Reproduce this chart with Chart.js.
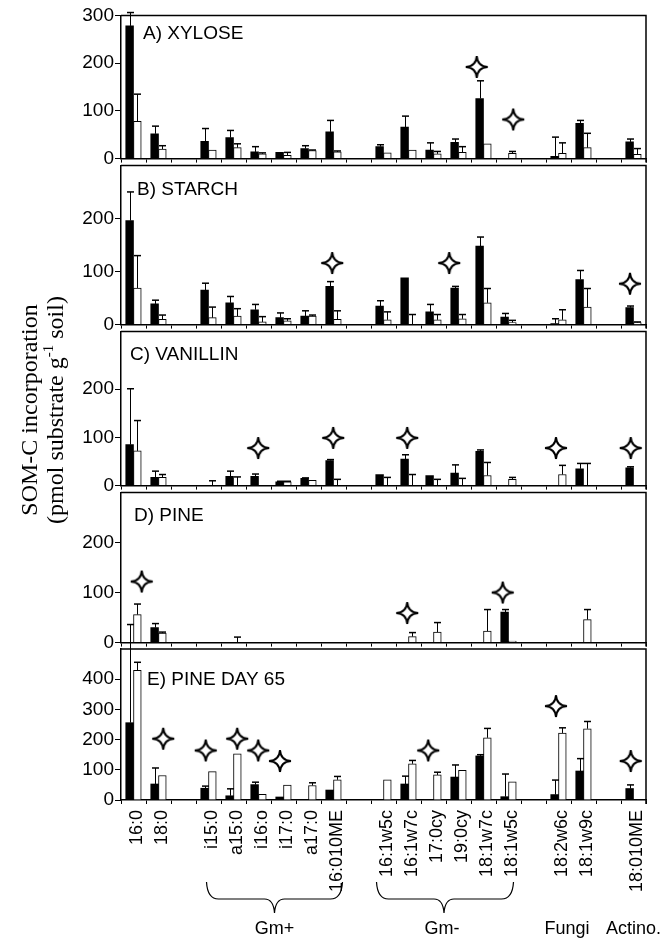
<!DOCTYPE html>
<html>
<head>
<meta charset="utf-8">
<script src="https://cdn.jsdelivr.net/npm/chart.js@4.4.0/dist/chart.umd.min.js"></script>
<style>
body { margin: 0; background: #fff; }
#wrap { position: relative; width: 662px; height: 938px; overflow: hidden; background: #fff; }
#wrap canvas { position: absolute; left: 0; }
</style>
</head>
<body>
<div id="wrap">
  <canvas id="cT" width="80" height="938" style="top:0px"></canvas>
  <canvas id="cA" width="662" height="168" style="top:3px"></canvas>
  <canvas id="cB" width="662" height="184" style="top:153px"></canvas>
  <canvas id="cC" width="662" height="179" style="top:319px"></canvas>
  <canvas id="cD" width="662" height="175" style="top:480px"></canvas>
  <canvas id="cE" width="662" height="319" style="top:619px"></canvas>
</div>
<script>
// fatty acid categories (blank slots are gaps between groups)
const cats = ['16:0', '18:0', '', 'i15:0', 'a15:0', 'i16:o', 'i17:0', 'a17:0', '16:010ME', '',
  '16:1w5c', '16:1w7c', '17:0cy', '19:0cy', '18:1w7c', '18:1w5c', '', '18:2w6c', '18:1w9c', '', '18:010ME'];

// A) XYLOSE
const xyloseBlack    = [278, 52, null, 36, 44, 14, 13, 21, 56, null, 25, 66, 18, 34, 126, 0, null, 5, 74, null, 35];
const xyloseBlackErr = [28, 16, null, 27, 15, 11, 0, 6, 24, null, 4, 23, 15, 7, 37, 0, null, 40, 6, null, 6];
const xyloseWhite    = [78, 20, null, 18, 23, 10, 7, 17, 14, null, 12, 18, 10, 13, 31, 11, null, 11, 23, null, 9];
const xyloseWhiteErr = [57, 7, null, 0, 8, 2, 6, 1, 2, null, 0, 0, 5, 12, 0, 4, null, 22, 30, null, 12];
const xyloseStarX = [13.73, 15.19];
const xyloseStarY = [192, 82];

// B) STARCH
const starchBlack    = [196, 39, null, 65, 41, 28, 13, 16, 72, null, 35, 88, 24, 69, 148, 14, null, 2, 85, null, 32];
const starchBlackErr = [54, 7, null, 13, 12, 10, 9, 10, 9, null, 10, 0, 14, 3, 17, 7, null, 9, 17, null, 3];
const starchWhite    = [69, 10, null, 13, 16, 5, 7, 16, 10, null, 9, 0, 9, 11, 41, 4, null, 9, 33, null, 4];
const starchWhiteErr = [61, 8, null, 20, 14, 10, 4, 2, 16, null, 15, 19, 10, 8, 27, 4, null, 19, 35, null, 1];
const starchStarX = [7.95, 12.63, 19.86];
const starchStarY = [116, 116, 77];

// C) VANILLIN
const vanillinBlack    = [85, 17, null, 0, 19, 19, 8, 15, 52, null, 23, 55, 21, 26, 71, 0, null, 0, 35, null, 37];
const vanillinBlackErr = [116, 13, null, 0, 11, 5, 1, 1, 2, null, 0, 9, 0, 17, 3, 0, null, 0, 11, null, 2];
const vanillinWhite    = [72, 17, null, 0, 0, 0, 8, 11, 0, null, 0, 0, 0, 0, 21, 13, null, 23, 0, null, 0];
const vanillinWhiteErr = [63, 6, null, 10, 18, 0, 1, 0, 13, null, 17, 23, 13, 15, 27, 4, null, 19, 46, null, 0];
const vanillinStarX = [4.99, 7.99, 10.95, 16.9, 19.89];
const vanillinStarY = [78, 99, 99, 78, 78];

// D) PINE
const pineBlack    = [0, 30, null, 0, 0, 0, 0, 0, 0, null, 0, 0, 0, 0, 0, 61, null, 0, 0, null, 0];
const pineBlackErr = [0, 8, null, 0, 0, 0, 0, 0, 0, null, 0, 0, 0, 0, 0, 5, null, 0, 0, null, 0];
const pineWhite    = [56, 19, null, 0, 0, 0, 0, 0, 0, null, 0, 12, 21, 0, 23, 3, null, 0, 46, null, 0];
const pineWhiteErr = [21, 2, null, 0, 11, 0, 0, 0, 0, null, 0, 8, 19, 0, 43, 0, null, 0, 20, null, 0];
const pineStarX = [0.33, 10.95, 14.77];
const pineStarY = [122, 59, 100];

// E) PINE DAY 65
const day65Black    = [256, 53, null, 39, 14, 51, 10, 0, 33, null, 0, 53, 0, 76, 146, 11, null, 18, 96, null, 38];
const day65BlackErr = [325, 53, null, 7, 23, 8, 0, 0, 0, null, 0, 26, 0, 40, 4, 75, null, 48, 41, null, 12];
const day65White    = [429, 81, null, 94, 153, 19, 49, 48, 67, null, 67, 120, 83, 98, 206, 60, null, 222, 236, null, 0];
const day65WhiteErr = [27, 0, null, 0, 0, 0, 0, 9, 11, null, 0, 11, 9, 0, 31, 0, null, 17, 24, null, 0];
const day65StarX = [1.19, 2.89, 4.15, 4.99, 5.86, 11.79, 16.9, 19.89];
const day65StarY = [203, 164, 203, 164, 129, 164, 311, 129];

const FONT = "'Liberation Sans', Arial, sans-serif";
const SERIF = "'Liberation Serif', 'Times New Roman', serif";

// y axis title (shared by all panels)
(function () {
  const ctx = document.getElementById('cT').getContext('2d');
  ctx.fillStyle = '#000';
  ctx.textBaseline = 'middle';
  ctx.save();
  ctx.translate(31, 410);
  ctx.rotate(-Math.PI / 2);
  ctx.font = '24px ' + SERIF;
  ctx.textAlign = 'center';
  ctx.fillText('SOM-C incorporation', 0, 0);
  ctx.restore();

  ctx.save();
  ctx.translate(57, 410);
  ctx.rotate(-Math.PI / 2);
  ctx.textAlign = 'left';
  const p1 = '(pmol substrate g', sup = '-1', p2 = ' soil)';
  ctx.font = '24px ' + SERIF;
  const w1 = ctx.measureText(p1).width, w3 = ctx.measureText(p2).width;
  ctx.font = '15px ' + SERIF;
  const w2 = ctx.measureText(sup).width;
  let x = -(w1 + w2 + w3) / 2;
  ctx.font = '24px ' + SERIF;
  ctx.fillText(p1, x, 0);
  ctx.font = '15px ' + SERIF;
  ctx.fillText(sup, x + w1, -8);
  ctx.font = '24px ' + SERIF;
  ctx.fillText(p2, x + w1 + w2, 0);
  ctx.restore();
})();

function makeStar(r) {
  const c = document.createElement('canvas');
  const s = r * 2 + 4;
  c.width = s; c.height = s;
  const g = c.getContext('2d');
  const m = s / 2, k = r * 0.06;
  g.beginPath();
  g.moveTo(m, m - r);
  g.quadraticCurveTo(m + k, m - k, m + r, m);
  g.quadraticCurveTo(m + k, m + k, m, m + r);
  g.quadraticCurveTo(m - k, m + k, m - r, m);
  g.quadraticCurveTo(m - k, m - k, m, m - r);
  g.closePath();
  g.fillStyle = '#fff'; g.fill();
  g.lineWidth = 2; g.strokeStyle = '#000'; g.stroke();
  return c;
}
const star = makeStar(11);

const errorBars = {
  id: 'errorBars',
  afterDatasetsDraw(chart) {
    const ctx = chart.ctx, ys = chart.scales.y;
    chart.data.datasets.forEach((ds, di) => {
      if (!ds.err) return;
      chart.getDatasetMeta(di).data.forEach((bar, i) => {
        const e = ds.err[i], v = ds.data[i].y;
        if (v == null || !e) return;
        const top = ys.getPixelForValue(v + e);
        const x = Math.round(bar.x) + 0.5;
        ctx.save();
        ctx.strokeStyle = '#000';
        ctx.lineWidth = 1;
        ctx.beginPath();
        ctx.moveTo(x, bar.y); ctx.lineTo(x, top);
        ctx.stroke();
        ctx.lineWidth = 1.5;
        ctx.beginPath();
        ctx.moveTo(x - 3.5, top); ctx.lineTo(x + 3.5, top);
        ctx.stroke();
        ctx.restore();
      });
    });
  }
};

const panelDeco = {
  id: 'panelDeco',
  afterDraw(chart, args, opts) {
    const ctx = chart.ctx, a = chart.chartArea;
    ctx.save();
    ctx.strokeStyle = '#000'; ctx.lineWidth = 1.5;
    ctx.beginPath();
    ctx.moveTo(a.left, a.top); ctx.lineTo(a.right, a.top); ctx.lineTo(a.right, a.bottom + 4);
    ctx.stroke();
    ctx.fillStyle = '#000';
    ctx.font = '19px ' + FONT;
    ctx.textBaseline = 'alphabetic';
    ctx.fillText(opts.text, opts.x, a.top + opts.dy);
    if (opts.groups) {
      const xs = chart.scales.x;
      const brace = (x1, x2, xc) => {
        const y0 = a.bottom + 82, y1 = a.bottom + 99, y2 = a.bottom + 113;
        ctx.beginPath();
        ctx.moveTo(x1, y0);
        ctx.quadraticCurveTo(x1 + 1, y1, x1 + 12, y1);
        ctx.lineTo(xc - 10, y1);
        ctx.quadraticCurveTo(xc - 1, y1, xc, y2);
        ctx.quadraticCurveTo(xc + 1, y1, xc + 10, y1);
        ctx.lineTo(x2 - 12, y1);
        ctx.quadraticCurveTo(x2 - 1, y1, x2, y0);
        ctx.lineWidth = 1.2;
        ctx.stroke();
      };
      const gp1 = xs.getPixelForValue(3) - 2, gp2 = xs.getPixelForValue(8) + 9;
      const gm1 = xs.getPixelForValue(10) - 7, gm2 = xs.getPixelForValue(15) + 5;
      brace(gp1, gp2, (gp1 + gp2) / 2);
      brace(gm1, gm2, (gm1 + gm2) / 2 - 1);
      ctx.font = '18px ' + FONT;
      ctx.textAlign = 'center';
      const by = a.bottom + 134;
      ctx.fillText('Gm+', (gp1 + gp2) / 2, by);
      ctx.fillText('Gm-', (gm1 + gm2) / 2 - 3, by);
      ctx.fillText('Fungi', (xs.getPixelForValue(17) + xs.getPixelForValue(18)) / 2 - 4, by);
      ctx.fillText('Actino.', xs.getPixelForValue(20), by);
    }
    ctx.restore();
  }
};

// black bar sits in the left half of a slot, white bar in the right half
const toPts = (vals, shift) => vals.map((v, i) => ({ x: i + shift, y: v }));

function makePanel(id, black, blackErr, white, whiteErr, starX, starY, yMax, showMax, deco, bottom) {
  const padTop = bottom ? 30 : 12;
  new Chart(document.getElementById(id), {
    type: 'bar',
    data: {
      labels: cats,
      datasets: [
        { data: toPts(black, -0.155), err: blackErr, xAxisID: 'xs', grouped: false,
          backgroundColor: '#000', borderColor: '#000', borderWidth: 0,
          categoryPercentage: 1, barPercentage: 1 },
        { data: toPts(white, 0.155), err: whiteErr, xAxisID: 'xs', grouped: false,
          backgroundColor: '#fff', borderColor: '#000', borderWidth: 1,
          categoryPercentage: 1, barPercentage: 1 },
        { type: 'scatter', xAxisID: 'xs', data: starX.map((x, i) => ({ x: x, y: starY[i] })),
          pointStyle: star, pointRadius: 11 }
      ]
    },
    options: {
      responsive: false,
      animation: false,
      events: [],
      layout: { padding: { top: padTop, left: 0, right: 16, bottom: 0 } },
      plugins: { legend: { display: false }, tooltip: { enabled: false }, panelDeco: deco },
      scales: {
        x: {
          type: 'category', offset: true,
          grid: { offset: true, drawOnChartArea: false, tickLength: 4, color: '#000', lineWidth: 1 },
          border: { color: '#000', width: 1.5 },
          ticks: bottom ? {
            display: true, color: '#000', font: { family: FONT, size: 18 },
            minRotation: 90, maxRotation: 90, autoSkip: false, labelOffset: 4, padding: 6
          } : { display: false },
          afterFit: (s) => { s.height = bottom ? 138 : 6; }
        },
        xs: { type: 'linear', min: -0.5, max: 20.5, offset: false, display: false,
          grid: { offset: false } },
        y: {
          min: 0, max: yMax,
          grid: { drawOnChartArea: false, tickLength: 6, color: '#000', lineWidth: 1 },
          border: { color: '#000', width: 1.5 },
          ticks: { stepSize: 100, color: '#000', padding: 1, font: { family: FONT, size: 19 } },
          afterBuildTicks: (s) => { s.ticks = s.ticks.filter(t => t.value <= showMax); },
          afterFit: (s) => { s.width = 121; }
        }
      }
    },
    plugins: [errorBars, panelDeco]
  });
}

makePanel('cA', xyloseBlack, xyloseBlackErr, xyloseWhite, xyloseWhiteErr, xyloseStarX, xyloseStarY,
  300, 300, { text: 'A) XYLOSE', x: 143, dy: 24 }, false);
makePanel('cB', starchBlack, starchBlackErr, starchWhite, starchWhiteErr, starchStarX, starchStarY,
  300, 200, { text: 'B) STARCH', x: 137, dy: 30 }, false);
makePanel('cC', vanillinBlack, vanillinBlackErr, vanillinWhite, vanillinWhiteErr, vanillinStarX, vanillinStarY,
  320, 200, { text: 'C) VANILLIN', x: 130, dy: 29 }, false);
makePanel('cD', pineBlack, pineBlackErr, pineWhite, pineWhiteErr, pineStarX, pineStarY,
  300, 200, { text: 'D) PINE', x: 134, dy: 29 }, false);
makePanel('cE', day65Black, day65BlackErr, day65White, day65WhiteErr, day65StarX, day65StarY,
  500, 400, { text: 'E) PINE DAY 65', x: 147, dy: 36, groups: true }, true);
</script>
</body>
</html>
